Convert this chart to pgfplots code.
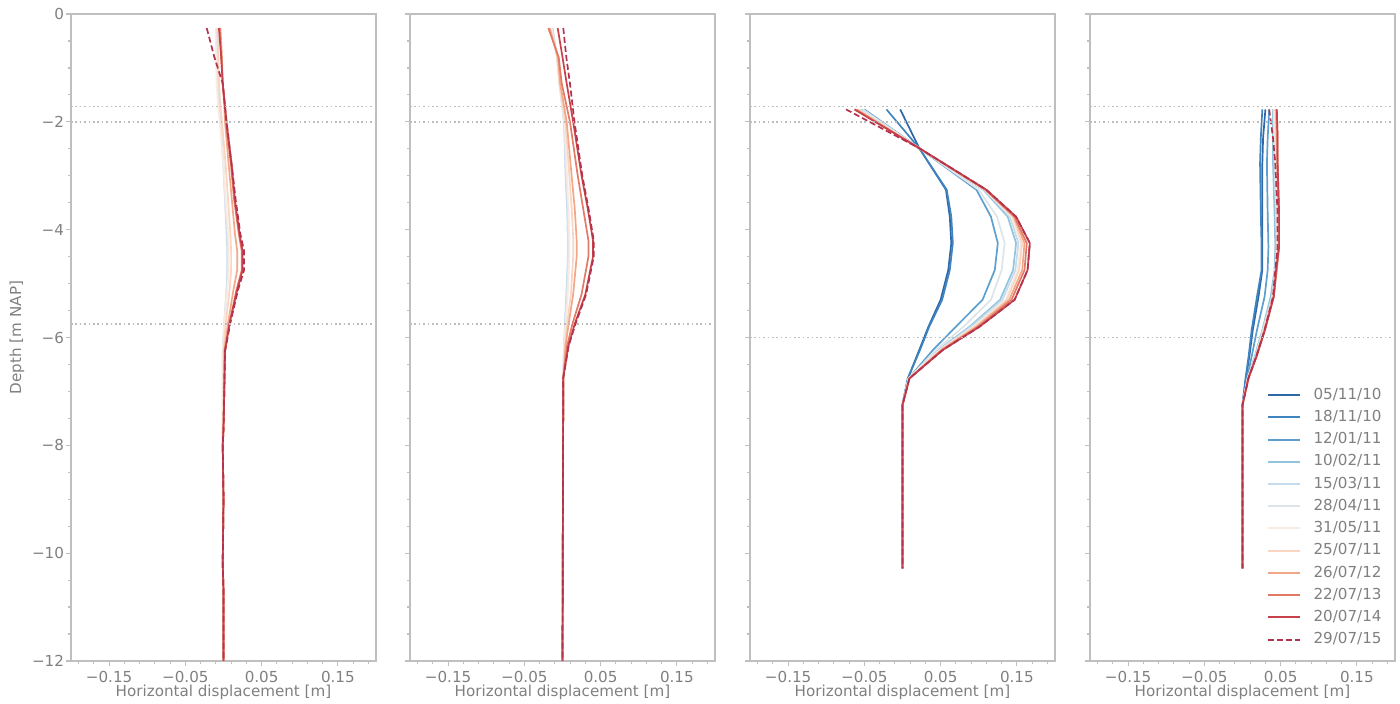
\documentclass[border=0pt]{standalone}
\usepackage{fontspec}
\setmainfont{DejaVu Sans}
\usepackage{pgfplots}
\usepackage{pgfplotstable}
\pgfplotsset{compat=1.18}
\definecolor{txt}{HTML}{808080}
\definecolor{spine}{HTML}{BFBFBF}
\definecolor{dotc}{HTML}{BDBDBD}
\definecolor{c1}{HTML}{2F68A8}
\definecolor{c2}{HTML}{3F84BF}
\definecolor{c3}{HTML}{5D9FCF}
\definecolor{c4}{HTML}{93C4DE}
\definecolor{c5}{HTML}{C5DCEC}
\definecolor{c6}{HTML}{DDE5EA}
\definecolor{c7}{HTML}{F7EBE3}
\definecolor{c8}{HTML}{F9D5C2}
\definecolor{c9}{HTML}{F2A888}
\definecolor{c10}{HTML}{E27A65}
\definecolor{c11}{HTML}{C8404A}
\definecolor{c12}{HTML}{B3324E}

% Panel 1
\pgfplotstableread{
d      s5     s6     s7     s8     s9     s10    s11    s12
-0.26 -0.008 -0.009 -0.010 -0.008 -0.004 -0.005 -0.006 -0.022
-0.8  -0.007 -0.008 -0.010 -0.007 -0.002 -0.003 -0.003 -0.012
-1.29 -0.006 -0.007 -0.009 -0.006 -0.001 -0.001 -0.001 -0.001
-1.72 -0.005 -0.006 -0.007 -0.004  0.001  0.002  0.002  0.002
-2.0  -0.004 -0.004 -0.005 -0.002  0.002  0.003  0.004  0.004
-2.83  0.000  0.000  0.000  0.003  0.007  0.010  0.011  0.011
-3.45  0.002  0.002  0.003  0.006  0.011  0.014  0.015  0.016
-4.07  0.004  0.005  0.006  0.009  0.015  0.020  0.021  0.022
-4.4   0.005  0.006  0.007  0.010  0.018  0.024  0.025  0.027
-4.75  0.005  0.006  0.007  0.010  0.018  0.024  0.025  0.027
-5.12  0.004  0.004  0.005  0.008  0.013  0.017  0.018  0.019
-5.73  0.001  0.001  0.001  0.003  0.006  0.008  0.008  0.009
-6.25 -0.001 -0.001 -0.001  0.000  0.001  0.002  0.002  0.002
-7.0  -0.001 -0.001 -0.001  0.000  0.001  0.001  0.001  0.001
-7.7  -0.001 -0.001 -0.001 -0.001  0.000  0.000  0.000  0.000
-8.0  -0.001 -0.001 -0.001 -0.001 -0.001 -0.001 -0.001 -0.001
-9.0   0.000  0.000  0.000  0.000  0.000  0.000  0.000  0.000
-10.2 -0.001 -0.001 -0.001 -0.001 -0.001 -0.001 -0.001 -0.001
-10.7  0.000  0.000  0.000  0.000  0.000  0.000  0.000  0.000
-12    0.000  0.000  0.000  0.000  0.000  0.000  0.000  0.000
}\tabA

% Panel 2
\pgfplotstableread{
d      s5     s6     s7     s8     s9     s10    s11    s12
-0.26 -0.013 -0.014 -0.015 -0.016 -0.017 -0.0186 -0.0063 0.001
-0.8  -0.007 -0.007 -0.007 -0.007 -0.006 -0.005  0.000  0.005
-1.29 -0.004 -0.004 -0.004 -0.004 -0.003 -0.001  0.0055 0.0098
-2.0   0.002  0.002  0.003  0.004  0.0055 0.0098 0.014  0.0157
-3.0   0.004  0.005  0.006  0.009  0.012  0.020  0.025  0.026
-3.6   0.006  0.007  0.008  0.012  0.016  0.027  0.033  0.034
-4.2   0.007  0.0076 0.009  0.0142 0.0186 0.034  0.040  0.041
-4.5   0.007  0.0076 0.009  0.014  0.0186 0.034  0.040  0.041
-5.2   0.005  0.006  0.007  0.011  0.014  0.025  0.030  0.031
-5.75  0.003  0.004  0.004  0.006  0.008  0.013  0.016  0.017
-6.16  0.002  0.002  0.002  0.003  0.004  0.006  0.0077 0.008
-6.75  0.001  0.001  0.001  0.001  0.001  0.001  0.001  0.001
-12    0.000  0.000  0.000  0.000  0.000  0.000  0.000  0.000
}\tabB

% Panel 3
\pgfplotstableread{
d      s1     s2     s3     s4     s5     s6     s7     s8     s9     s10    s11    s12
-1.77 -0.003 -0.021 -0.050 -0.054 -0.056 -0.052 -0.058 -0.059 -0.060 -0.062 -0.063 -0.074
-2.49  0.022  0.022  0.022  0.022  0.022  0.022  0.022  0.022  0.022  0.022  0.022  0.022
-3.26  0.057  0.058  0.097  0.106  0.107  0.100  0.108  0.108  0.109  0.109  0.110  0.110
-3.76  0.062  0.064  0.116  0.138  0.141  0.124  0.143  0.145  0.146  0.147  0.149  0.149
-4.25  0.064  0.066  0.125  0.149  0.152  0.134  0.155  0.157  0.160  0.163  0.167  0.167
-4.75  0.060  0.062  0.121  0.145  0.148  0.130  0.151  0.153  0.157  0.160  0.164  0.164
-5.3   0.050  0.052  0.105  0.128  0.131  0.116  0.135  0.137  0.140  0.143  0.147  0.147
-5.8   0.034  0.035  0.070  0.088  0.090  0.080  0.093  0.095  0.097  0.099  0.101  0.101
-6.23  0.022  0.023  0.040  0.047  0.048  0.044  0.049  0.050  0.051  0.052  0.053  0.053
-6.76  0.007  0.007  0.008  0.008  0.008  0.008  0.008  0.009  0.009  0.009  0.009  0.009
-7.25  0.000  0.000  0.000  0.000  0.000  0.000  0.000  0.000  0.000  0.000  0.000  0.000
-10.28 0.000  0.000  0.000  0.000  0.000  0.000  0.000  0.000  0.000  0.000  0.000  0.000
}\tabC

% Panel 4
\pgfplotstableread{
d      s1     s2     s3     s4     s5     s6     s7     s8     s9     s10    s11    s12
-1.77  0.030  0.026  0.035  0.040  0.041  0.041  0.042  0.043  0.044  0.045  0.045  0.035
-2.3   0.027  0.024  0.033  0.040  0.041  0.042  0.043  0.044  0.045  0.046  0.046  0.040
-2.77  0.026  0.023  0.032  0.040  0.042  0.043  0.044  0.045  0.046  0.046  0.046  0.043
-3.7   0.026  0.024  0.033  0.042  0.044  0.045  0.046  0.047  0.047  0.048  0.048  0.046
-4.32  0.026  0.025  0.034  0.043  0.045  0.045  0.046  0.047  0.047  0.048  0.048  0.046
-4.75  0.026  0.025  0.033  0.042  0.043  0.043  0.044  0.044  0.044  0.045  0.044  0.043
-5.24  0.021  0.019  0.029  0.037  0.039  0.039  0.040  0.040  0.041  0.041  0.041  0.040
-5.86  0.0135 0.012  0.019  0.026  0.027  0.027  0.028  0.028  0.029  0.029  0.0295 0.029
-6.35  0.009  0.008  0.012  0.016  0.017  0.017  0.018  0.018  0.018  0.018  0.0186 0.018
-6.75  0.0045 0.004  0.006  0.007  0.007  0.007  0.007  0.007  0.008  0.008  0.0077 0.008
-7.25  0.000  0.000  0.000  0.000  0.000  0.000  0.000  0.000  0.000  0.000  0.000  0.000
-10.28 0.000  0.000  0.000  0.000  0.000  0.000  0.000  0.000  0.000  0.000  0.000  0.000
}\tabD

\pgfplotsset{
  panel/.style={
    scale only axis, width=152.5bp, height=323.5bp,
    anchor=south west,
    xmin=-0.2, xmax=0.2, ymin=-12, ymax=0,
    xtick={-0.15,-0.05,0.05,0.15},
    xticklabels={−0.15,−0.05,0.05,0.15},
    minor xtick={-0.19,-0.17,-0.13,-0.11,-0.09,-0.07,-0.03,-0.01,0.01,0.03,0.07,0.09,0.11,0.13,0.17,0.19},
    ytick={-12,-10,-8,-6,-4,-2,0},
    minor ytick={-11.5,-11,-10.5,-9.5,-9,-8.5,-7.5,-7,-6.5,-5.5,-5,-4.5,-3.5,-3,-2.5,-1.5,-1,-0.5},
    axis line style={draw=spine, line width=0.6bp},
    every tick/.style={draw=spine, line width=0.6bp},
    major tick length=2.5bp, minor tick length=1.4bp,
    tick align=outside,
    xtick pos=left, ytick pos=left,
    tick label style={font=\fontsize{7.6}{8.6}\selectfont, text=txt},
    label style={font=\fontsize{7.6}{8.6}\selectfont, text=txt},
    yticklabel style={xshift=2.5bp},
    xticklabel style={yshift=0.8bp},
    xlabel={Horizontal displacement [m]},
    xlabel style={at={(axis description cs:0.5,0)}, anchor=center, yshift=-15.5bp},
    every axis plot/.append style={line width=0.85bp},
  },
  s1/.style={c1}, s2/.style={c2}, s3/.style={c3}, s4/.style={c4},
  s5/.style={c5}, s6/.style={c6}, s7/.style={c7}, s8/.style={c8},
  s9/.style={c9}, s10/.style={c10}, s11/.style={c11},
  s12/.style={c12, dash pattern=on 3bp off 1.5bp},
  dotl/.style={dotc, line width=0.7bp, dash pattern=on 0.8bp off 1.4bp},
}

\begin{document}
\begin{tikzpicture}
\path[use as bounding box] (0,0) rectangle (700bp,352bp);

% Panel 1
\begin{axis}[panel, at={(35.5bp,21.5bp)},
  yticklabels={−12,−10,−8,−6,−4,−2,0},
  ylabel={Depth [m NAP]},
  ylabel style={at={(axis description cs:-0.177,0.5)}, anchor=center}]
\pgfplotsinvokeforeach{5,...,12}{
  \addplot[s#1] table[x=s#1, y=d] {\tabA};
}
\addplot[dotl, forget plot] coordinates {(-0.2,-1.72) (0.2,-1.72)};
\addplot[dotl, forget plot] coordinates {(-0.2,-2.0) (0.2,-2.0)};
\addplot[dotl, forget plot] coordinates {(-0.2,-5.75) (0.2,-5.75)};
\end{axis}

% Panel 2
\begin{axis}[panel, at={(205bp,21.5bp)}, yticklabels={}]
\pgfplotsinvokeforeach{5,...,12}{
  \addplot[s#1] table[x=s#1, y=d] {\tabB};
}
\addplot[dotl, forget plot] coordinates {(-0.2,-1.72) (0.2,-1.72)};
\addplot[dotl, forget plot] coordinates {(-0.2,-2.0) (0.2,-2.0)};
\addplot[dotl, forget plot] coordinates {(-0.2,-5.75) (0.2,-5.75)};
\end{axis}

% Panel 3
\begin{axis}[panel, at={(375bp,21.5bp)}, yticklabels={}]
\pgfplotsinvokeforeach{1,...,12}{
  \addplot[s#1] table[x=s#1, y=d] {\tabC};
}
\addplot[dotl, forget plot] coordinates {(-0.2,-1.72) (0.2,-1.72)};
\addplot[dotl, forget plot] coordinates {(-0.2,-2.0) (0.2,-2.0)};
\addplot[dotl, forget plot] coordinates {(-0.2,-6.0) (0.2,-6.0)};
\end{axis}

% Panel 4
\begin{axis}[panel, at={(545bp,21.5bp)}, yticklabels={},
  legend cell align=left,
  legend image code/.code={\draw[#1, line width=1bp] (0bp,0bp) -- (16bp,0bp);},
  legend style={at={(rel axis cs:0.988,0.01)}, anchor=south east,
    draw=none, fill=none, font=\fontsize{7.6}{8.6}\selectfont, text=txt,
    row sep=0.6bp, nodes={inner sep=1.7bp},
    /tikz/every odd column/.append style={column sep=4.5bp}}]
\addplot[s1] table[x=s1, y=d] {\tabD}; \addlegendentry{05/11/10}
\addplot[s2] table[x=s2, y=d] {\tabD}; \addlegendentry{18/11/10}
\addplot[s3] table[x=s3, y=d] {\tabD}; \addlegendentry{12/01/11}
\addplot[s4] table[x=s4, y=d] {\tabD}; \addlegendentry{10/02/11}
\addplot[s5] table[x=s5, y=d] {\tabD}; \addlegendentry{15/03/11}
\addplot[s6] table[x=s6, y=d] {\tabD}; \addlegendentry{28/04/11}
\addplot[s7] table[x=s7, y=d] {\tabD}; \addlegendentry{31/05/11}
\addplot[s8] table[x=s8, y=d] {\tabD}; \addlegendentry{25/07/11}
\addplot[s9] table[x=s9, y=d] {\tabD}; \addlegendentry{26/07/12}
\addplot[s10] table[x=s10, y=d] {\tabD}; \addlegendentry{22/07/13}
\addplot[s11] table[x=s11, y=d] {\tabD}; \addlegendentry{20/07/14}
\addplot[s12] table[x=s12, y=d] {\tabD}; \addlegendentry{29/07/15}
\addplot[dotl, forget plot] coordinates {(-0.2,-1.72) (0.2,-1.72)};
\addplot[dotl, forget plot] coordinates {(-0.2,-2.0) (0.2,-2.0)};
\addplot[dotl, forget plot] coordinates {(-0.2,-6.0) (0.2,-6.0)};
\end{axis}
\end{tikzpicture}
\end{document}
